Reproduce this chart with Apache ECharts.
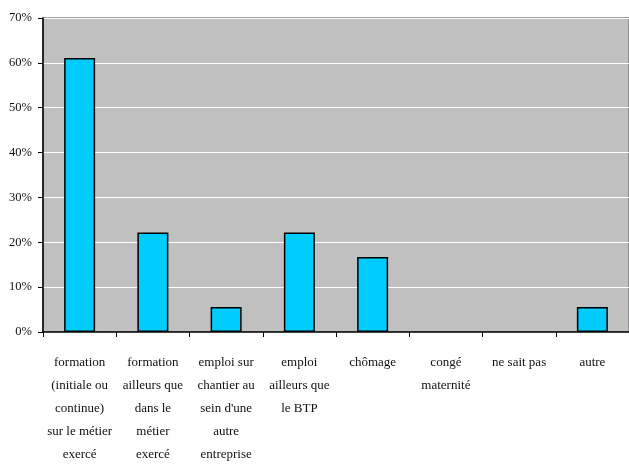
<!DOCTYPE html>
<html>
<head>
<meta charset="utf-8">
<script src="https://cdn.jsdelivr.net/npm/echarts@6/dist/echarts.min.js"></script>
<style>
html,body{margin:0;padding:0;background:#fff;}
#c{width:629px;height:466px;}
</style>
</head>
<body>
<div id="c"></div>
<script>
const categories = [
  "formation\n(initiale ou\ncontinue)\nsur le métier\nexercé",
  "formation\nailleurs que\ndans le\nmétier\nexercé",
  "emploi sur\nchantier au\nsein d'une\nautre\nentreprise",
  "emploi\nailleurs que\nle BTP",
  "chômage",
  "congé\nmaternité",
  "ne sait pas",
  "autre"
];
const values = [61.1, 22.2, 5.6, 22.2, 16.7, 0, 0, 5.6];
const yTicks = [0, 10, 20, 30, 40, 50, 60, 70];

const chart = echarts.init(document.getElementById('c'), null, {renderer: 'canvas'});
chart.setOption({
  animation: false,
  backgroundColor: '#ffffff',
  textStyle: {fontFamily: 'Liberation Serif'},
  grid: {
    left: 43, top: 18, width: 596, height: 315,
    show: true, backgroundColor: '#c0c0c0', borderColor: '#808080', borderWidth: 1.5
  },
  xAxis: {
    type: 'category',
    data: categories,
    axisLine: {lineStyle: {color: '#000', width: 1.5}},
    axisTick: {show: true, length: 5, alignWithLabel: false, lineStyle: {color: '#000'}},
    axisLabel: {
      interval: 0, margin: 19, color: '#111', fontSize: 13,
      fontFamily: 'Liberation Serif', lineHeight: 23
    }
  },
  yAxis: {
    type: 'value',
    min: yTicks[0], max: yTicks[yTicks.length - 1], interval: 10,
    axisLine: {show: true, lineStyle: {color: '#000', width: 1.5}},
    axisTick: {show: true, length: 5, lineStyle: {color: '#000'}},
    axisLabel: {
      margin: 11, color: '#111', fontSize: 12.5, fontFamily: 'Liberation Serif',
      formatter: v => v + '%'
    },
    splitLine: {show: true, lineStyle: {color: '#ffffff', width: 1.2}}
  },
  series: [{
    type: 'bar',
    data: values.map(v => v === 0 ? '-' : v),
    barWidth: 31,
    itemStyle: {color: '#00ccff', borderColor: '#000', borderWidth: 1.5}
  }]
});
</script>
</body>
</html>
